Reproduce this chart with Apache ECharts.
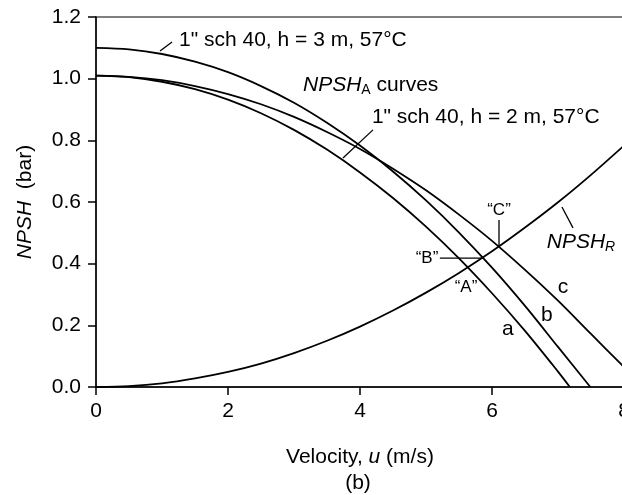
<!DOCTYPE html>
<html>
<head>
<meta charset="utf-8">
<script src="https://cdn.jsdelivr.net/npm/echarts@6/dist/echarts.min.js"></script>
<style>
html,body{margin:0;padding:0;background:#fff;}
#chart{width:622px;height:495px;}
</style>
</head>
<body>
<div id="chart"></div>
<script>
// Velocity u (m/s)
const uBase = [0, 0.5, 1, 1.5, 2, 2.5, 3, 3.5, 4, 4.5, 5, 5.5, 6, 6.5, 7];
// NPSH_A curve a -- reaches zero near 7.18 m/s
const uA = uBase.concat([7.18]);
const npshA_a = [1.010, 1.005, 0.990, 0.966, 0.932, 0.888, 0.834, 0.770, 0.696, 0.613, 0.520, 0.417, 0.304, 0.182, 0.050, 0.000];
// NPSH_A curve b -- reaches zero near 7.49 m/s
const uB = uBase.concat([7.49]);
const npshA_b = [1.100, 1.095, 1.080, 1.055, 1.021, 0.976, 0.922, 0.857, 0.783, 0.699, 0.605, 0.501, 0.387, 0.263, 0.130, 0.000];
// NPSH_A curve c
const uC = uBase.concat([7.5, 8]);
const npshA_c = [1.010, 1.006, 0.995, 0.976, 0.950, 0.917, 0.876, 0.827, 0.772, 0.708, 0.638, 0.559, 0.474, 0.380, 0.280, 0.172, 0.065];
// NPSH_R
const uR = uBase.concat([7.5, 8]);
const npshR = [0.000, 0.003, 0.012, 0.028, 0.049, 0.076, 0.110, 0.150, 0.196, 0.248, 0.306, 0.370, 0.440, 0.517, 0.599, 0.688, 0.783];

const xTicks = [0, 2, 4, 6, 8];
const yTicks = [0, 0.2, 0.4, 0.6, 0.8, 1.0, 1.2];

function pairs(xs, ys) { return xs.map((x, i) => [x, ys[i]]); }

const FONT = "'Liberation Sans', Arial, Helvetica, sans-serif";
const chart = echarts.init(document.getElementById('chart'), null, {renderer: 'canvas'});

function lineSeries(name, xs, ys) {
  return {
    name: name, type: 'line', data: pairs(xs, ys),
    showSymbol: false, symbol: 'none', smooth: 0.3,
    lineStyle: {color: '#000', width: 1.8}, silent: true, animation: false
  };
}

chart.setOption({
  animation: false,
  backgroundColor: '#fff',
  grid: {left: 96, right: -2, top: 17, bottom: 108, outerBoundsMode: 'none', containLabel: false,
    show: true, borderColor: '#555', borderWidth: 1.5, backgroundColor: 'transparent'},
  xAxis: {
    type: 'value', min: xTicks[0], max: xTicks[xTicks.length - 1], interval: 2,
    axisLine: {show: true, onZero: false, lineStyle: {color: '#000', width: 1.5}},
    axisTick: {show: true, inside: false, length: 8, lineStyle: {color: '#000', width: 1.5}},
    axisLabel: {color: '#000', fontSize: 21, fontFamily: FONT, margin: 14, hideOverlap: false},
    splitLine: {show: false},
    name: '{n|Velocity, }{i|u}{n| (m/s)}',
    nameLocation: 'middle', nameGap: 60,
    nameTextStyle: {
      rich: {
        n: {fontSize: 21, fontFamily: FONT, color: '#000'},
        i: {fontSize: 21, fontFamily: FONT, color: '#000', fontStyle: 'italic'}
      }
    }
  },
  yAxis: {
    type: 'value', min: yTicks[0], max: yTicks[yTicks.length - 1], interval: 0.2,
    axisLine: {show: true, onZero: false, lineStyle: {color: '#000', width: 1.5}},
    axisTick: {show: true, inside: false, length: 8, lineStyle: {color: '#000', width: 1.5}},
    axisLabel: {color: '#000', fontSize: 21, fontFamily: FONT, margin: 15,
      formatter: v => v.toFixed(1)},
    splitLine: {show: false},
    name: '{i|NPSH}{n|  (bar)}',
    nameLocation: 'middle', nameGap: 60, nameRotate: 90,
    nameTextStyle: {
      rich: {
        n: {fontSize: 21, fontFamily: FONT, color: '#000'},
        i: {fontSize: 21, fontFamily: FONT, color: '#000', fontStyle: 'italic'}
      }
    }
  },
  series: [
    lineSeries('a', uA, npshA_a),
    lineSeries('b', uB, npshA_b),
    lineSeries('c', uC, npshA_c),
    lineSeries('NPSH_R', uR, npshR)
  ]
});

// Annotations placed in data coordinates
function P(u, v) { return chart.convertToPixel({xAxisIndex: 0, yAxisIndex: 0}, [u, v]); }
function txt(u, v, text, opts) {
  const p = P(u, v);
  return {type: 'text', x: p[0], y: p[1], silent: true, z: 100,
    style: Object.assign({text: text, fontSize: 21, fontFamily: FONT, fill: '#000',
      align: 'left', verticalAlign: 'middle'}, opts || {})};
}
function seg(u1, v1, u2, v2) {
  const a = P(u1, v1), b = P(u2, v2);
  return {type: 'line', silent: true, z: 100,
    shape: {x1: a[0], y1: a[1], x2: b[0], y2: b[1]},
    style: {stroke: '#000', lineWidth: 1.3}};
}
const richBase = {
  n: {fontSize: 21, fontFamily: FONT, fill: '#000'},
  i: {fontSize: 21, fontFamily: FONT, fill: '#000', fontStyle: 'italic'},
  s: {fontSize: 14, fontFamily: FONT, fill: '#000', padding: [10, 0, 0, 0]},
  si: {fontSize: 14, fontFamily: FONT, fill: '#000', fontStyle: 'italic', padding: [10, 0, 0, 0]}
};

const graphics = [
  txt(1.258, 1.1255, '1" sch 40, h = 3 m, 57°C'),
  seg(0.97, 1.090, 1.152, 1.119),
  txt(3.136, 0.98, '{i|NPSH}{s|A}{n| curves}', {rich: richBase}),
  txt(4.18, 0.876, '1" sch 40, h = 2 m, 57°C'),
  seg(4.197, 0.834, 3.742, 0.743),
  txt(6.106, 0.574, '“C”', {fontSize: 17, align: 'center'}),
  seg(6.106, 0.542, 6.106, 0.454),
  txt(5.015, 0.418, '“B”', {fontSize: 17, align: 'center'}),
  seg(5.21, 0.418, 5.88, 0.418),
  txt(5.606, 0.324, '“A”', {fontSize: 17, align: 'center'}),
  txt(6.24, 0.188, 'a', {align: 'center'}),
  txt(6.83, 0.234, 'b', {align: 'center'}),
  txt(7.076, 0.324, 'c', {align: 'center'}),
  txt(6.83, 0.470, '{i|NPSH}{si|R}', {rich: richBase}),
  seg(7.06, 0.584, 7.227, 0.516),
  {type: 'text', x: 358, y: 483, silent: true, z: 100,
   style: {text: '(b)', fontSize: 21, fontFamily: FONT, fill: '#000', align: 'center', verticalAlign: 'middle'}}
];
chart.setOption({graphic: {elements: graphics}});
</script>
</body>
</html>
